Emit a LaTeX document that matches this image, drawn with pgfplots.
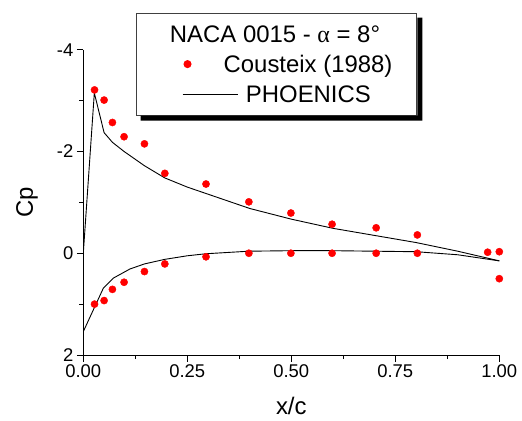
\documentclass[border=0pt]{standalone}
\usepackage{pgfplots}
\pgfplotsset{compat=1.18}
\usepackage{fontspec}
\setmainfont{Liberation Sans}
\newfontfamily\greekserif{Liberation Serif}
\pgfplotsset{
  markleg/.style={legend image code/.code={\draw[##1] plot coordinates {(5bp,0bp)};}},
  lineleg/.style={legend image code/.code={\draw[##1] (0bp,0bp) -- (55bp,0bp);}},
  titleleg/.style={legend image code/.code={\path (-46bp,0bp) (0bp,0bp);}},
}

\begin{document}
\begin{tikzpicture}
\path[use as bounding box] (-83.3bp,-66bp) rectangle (438.7bp,355bp);
\begin{axis}[
  scale only axis, width=416bp, height=305.3bp,
  at={(0,0)}, anchor=south west,
  xmin=0, xmax=1, ymin=-4, ymax=2, y dir=reverse,
  axis x line*=bottom, axis y line*=left,
  axis line style={-, line width=1bp},
  tick style={line width=1bp, black},
  tick align=outside,
  major tick length=6.5bp, minor tick length=4bp,
  xtick={0,0.25,0.5,0.75,1}, minor xtick={0.125,0.375,0.625,0.875},
  ytick={-4,-2,0,2}, minor ytick={-3,-1,1},
  xticklabel style={/pgf/number format/.cd, fixed, fixed zerofill, precision=2},
  /pgf/number format/assume math mode=true,
  ticklabel style={font=\fontsize{18.5}{22}\selectfont},
  xlabel={x/c}, ylabel={Cp},
  every axis x label/.style={at={(axis description cs:0.5,-0.1965)}, anchor=base,
    font=\fontsize{24}{28}\selectfont},
  every axis y label/.style={at={(axis description cs:-0.121,0.5)}, rotate=90, anchor=base,
    font=\fontsize{24}{28}\selectfont},
  legend style={name=leg, at={(0.126,1.1212)}, anchor=north west, draw=black!75, line width=0.8bp,
    fill=white, inner xsep=0bp, inner ysep=6bp, font=\fontsize{24}{28}\selectfont,
    column sep=8bp,
    nodes={inner xsep=0bp, inner ysep=3.5bp, text height=20bp, text depth=3bp},
    cells={anchor=west}},
]
\addlegendimage{titleleg}
\addlegendentry{\hspace*{-76bp}NACA 0015 - {\greekserif α} = 8°}

% Cousteix (1988), upper surface
\addplot[markleg, only marks, mark=*, mark size=3.6bp, red, mark options={draw=red, fill=red}] coordinates {
(0.027,-3.21) (0.050,-3.01) (0.070,-2.57) (0.098,-2.29) (0.147,-2.15)
(0.196,-1.57) (0.295,-1.36) (0.398,-1.01) (0.499,-0.79) (0.598,-0.57)
(0.704,-0.50) (0.803,-0.36) (0.972,-0.02) (1.000,-0.03)
};
\addlegendentry{\hspace*{-22.3bp}Cousteix (1988)}
% Cousteix (1988), lower surface
\addplot[forget plot, only marks, mark=*, mark size=3.6bp, red, mark options={draw=red, fill=red}] coordinates {
(0.027,1.00) (0.050,0.93) (0.070,0.71) (0.098,0.57) (0.147,0.36)
(0.196,0.21) (0.295,0.07) (0.398,0.00) (0.499,0.00) (0.598,0.00)
(0.704,0.00) (0.803,0.00) (1.000,0.50)
};

% PHOENICS upper
\addplot[lineleg, black, line width=0.9bp, mark=none] coordinates {
(0,0) (0.0265,-3.15) (0.05,-2.37) (0.07,-2.18) (0.098,-2.0) (0.147,-1.72)
(0.196,-1.48) (0.25,-1.30) (0.30,-1.16) (0.40,-0.88) (0.50,-0.67)
(0.60,-0.49) (0.70,-0.35) (0.80,-0.21) (0.90,-0.04) (1.0,0.15)
};
\addlegendentry{PHOENICS\hspace*{46bp}}
% PHOENICS lower
\addplot[forget plot, black, line width=0.9bp, mark=none] coordinates {
(0,1.54) (0.048,0.69) (0.072,0.49) (0.112,0.31) (0.147,0.21) (0.196,0.12)
(0.25,0.05) (0.295,0.01) (0.398,-0.04) (0.5,-0.05) (0.6,-0.05) (0.7,-0.04)
(0.8,-0.03) (0.9,0.03) (1.0,0.15)
};
\end{axis}
\fill[black] ([yshift=-5bp]leg.north east) -- ([xshift=5bp,yshift=-5bp]leg.north east)
  -- ([xshift=5bp,yshift=-5bp]leg.south east) -- ([xshift=5bp,yshift=-5bp]leg.south west)
  -- ([xshift=5bp]leg.south west) -- (leg.south east) -- cycle;
\end{tikzpicture}
\end{document}
